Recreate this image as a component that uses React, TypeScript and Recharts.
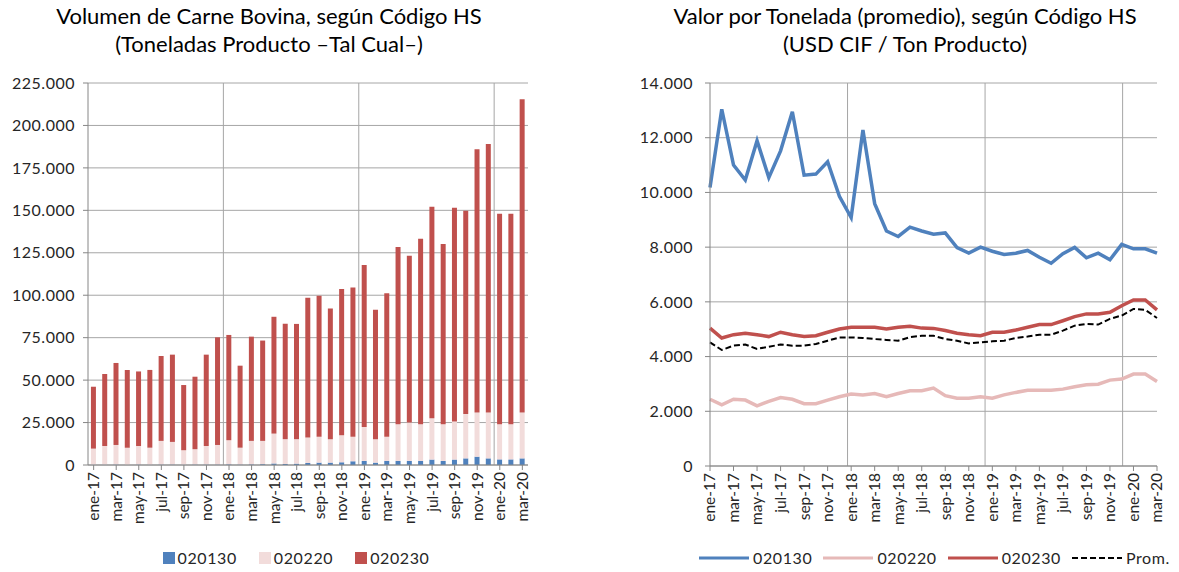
import { BarChart, Bar, ComposedChart, Line, XAxis, YAxis, CartesianGrid, Legend } from "recharts"

const months = [
    "ene-17", "feb-17", "mar-17", "abr-17", "may-17", "jun-17", "jul-17", "ago-17", "sep-17", "oct-17", "nov-17", "dic-17",
    "ene-18", "feb-18", "mar-18", "abr-18", "may-18", "jun-18", "jul-18", "ago-18", "sep-18", "oct-18", "nov-18", "dic-18",
    "ene-19", "feb-19", "mar-19", "abr-19", "may-19", "jun-19", "jul-19", "ago-19", "sep-19", "oct-19", "nov-19", "dic-19",
    "ene-20", "feb-20", "mar-20",
]

// Volumen (toneladas producto)
const vol020130 = [
    200, 200, 300, 200, 300, 200, 300, 300, 200, 300, 300, 300,
    400, 300, 400, 500, 900, 600, 800, 1200, 1400, 1400, 1600, 2200,
    2400, 1400, 2400, 2400, 2400, 2400, 3200, 2400, 3200, 3900, 4900, 3900,
    3300, 3300, 3900,
]
const vol020220 = [
    9450, 11000, 11500, 10000, 10900, 10000, 13900, 13300, 8500, 9000, 10900, 11500,
    14200, 9900, 13800, 13700, 17600, 14600, 14400, 15000, 15200, 13800, 15900, 14400,
    20000, 13800, 14200, 21600, 22600, 21600, 24400, 21600, 22400, 26100, 26000, 27000,
    20700, 20700, 27000,
]
const vol020230 = [
    36450, 42400, 48300, 45800, 43900, 45800, 50000, 51400, 38400, 42700, 53800, 63400,
    62000, 48300, 61400, 59100, 68800, 68000, 67900, 82300, 83100, 77000, 86100, 88000,
    95400, 76200, 84600, 104400, 98300, 109200, 124500, 106200, 125900, 119700, 155100, 158200,
    124000, 124000, 184600,
]

// Valor por tonelada (USD CIF / ton)
const usd020130 = [
    10180, 13040, 11000, 10450, 11890, 10540, 11520, 12950, 10630, 10670, 11120, 9860,
    9080, 12280, 9590, 8590, 8390, 8730, 8590, 8470, 8520, 7980, 7780, 8000,
    7850, 7730, 7780, 7880, 7630, 7410, 7760, 7990, 7610, 7780, 7540, 8100,
    7940, 7940, 7780,
]
const usd020220 = [
    2440, 2240, 2440, 2410, 2200, 2360, 2500, 2440, 2280, 2280, 2410, 2530,
    2630, 2600, 2650, 2530, 2650, 2750, 2750, 2850, 2570, 2480, 2480, 2530,
    2480, 2600, 2690, 2770, 2770, 2770, 2810, 2900, 2970, 2990, 3140, 3180,
    3360, 3360, 3090,
]
const usd020230 = [
    5040, 4680, 4800, 4850, 4800, 4730, 4890, 4800, 4730, 4760, 4890, 5010,
    5070, 5070, 5070, 5010, 5070, 5110, 5040, 5030, 4950, 4850, 4800, 4760,
    4890, 4890, 4970, 5070, 5170, 5170, 5310, 5460, 5560, 5560, 5620, 5860,
    6070, 6070, 5710,
]
const usdProm = [
    4520, 4240, 4400, 4440, 4280, 4360, 4440, 4400, 4400, 4460, 4580, 4700,
    4700, 4680, 4640, 4610, 4580, 4710, 4760, 4760, 4640, 4580, 4480, 4520,
    4560, 4580, 4680, 4730, 4800, 4800, 4950, 5130, 5190, 5170, 5380, 5500,
    5740, 5710, 5410,
]

const volTicks = [0, 25000, 50000, 75000, 100000, 125000, 150000, 175000, 200000, 225000]
const usdTicks = [0, 2000, 4000, 6000, 8000, 10000, 12000, 14000]

const volData = months.map((m, i) => ({ m, a: vol020130[i], b: vol020220[i], c: vol020230[i] }))
const usdData = months.map((m, i) => ({ m, a: usd020130[i], b: usd020220[i], c: usd020230[i], p: usdProm[i] }))

// Lato is the closest installed face to Calibri
const FONT = "Lato, 'Open Sans', sans-serif"
const TEXT = "#262626"
const AXIS = "#868686"
const GRID = "#a6a6a6"

const fmt = (v: number) => String(v).replace(/\B(?=(\d{3})+(?!\d))/g, ".")

// gridlines sit on the category boundaries at each January
const yearLines = ({ offset }: any) =>
    [12, 24, 36].map(i => offset.left + (offset.width * i) / months.length)

function MonthTick({ x, y, payload }: any) {
    return (
        <g transform={`translate(${x},${y})`}>
            <text x={0} y={0} dy="0.35em" textAnchor="end" transform="rotate(-90)" fontSize={15.5} fill={TEXT} fontFamily={FONT}>
                {payload.value}
            </text>
        </g>
    )
}

const legendText: React.CSSProperties = { fontSize: 16, letterSpacing: 0.6, color: TEXT, fontFamily: FONT }

function BarLegend({ payload }: any) {
    return (
        <div style={{ display: "flex", justifyContent: "center", gap: 22, paddingLeft: 54, ...legendText }}>
            {(payload || []).map((p: any) => (
                <span key={p.value} style={{ display: "flex", alignItems: "center", gap: 3 }}>
                    <span style={{ width: 12, height: 12, background: p.color, display: "inline-block" }} />
                    {p.value}
                </span>
            ))}
        </div>
    )
}

function LineLegend({ payload }: any) {
    return (
        <div style={{ display: "flex", justifyContent: "center", gap: 11, paddingLeft: 102, ...legendText }}>
            {(payload || []).map((p: any) => (
                <span key={p.value} style={{ display: "flex", alignItems: "center", gap: 4 }}>
                    <svg width={50} height={10}>
                        <line x1={0} y1={5} x2={50} y2={5} stroke={p.color}
                            strokeWidth={p.payload?.strokeDasharray ? 2 : 3}
                            strokeDasharray={p.payload?.strokeDasharray} />
                    </svg>
                    {p.value}
                </span>
            ))}
        </div>
    )
}

const titleStyle = (left: number, width: number): React.CSSProperties => ({
    position: "absolute", left, top: 2, width, textAlign: "center",
    fontFamily: FONT, fontSize: 22, lineHeight: "28px", color: "#000",
})

export default function App() {
    return (
        <div style={{ position: "absolute", left: 0, top: 0, width: 1179, height: 572, background: "#fff" }}>
            <div style={titleStyle(0, 538)}>
                Volumen de Carne Bovina, según Código HS<br />(Toneladas Producto –Tal Cual–)
            </div>
            <div style={titleStyle(635, 540)}>
                Valor por Tonelada (promedio), según Código HS<br />(USD CIF / Ton Producto)
            </div>

            <div style={{ position: "absolute", left: 0, top: 0 }}>
                <BarChart width={545} height={572} data={volData} barCategoryGap="26%"
                    margin={{ top: 83, right: 17, left: 10, bottom: 5 }}>
                    <CartesianGrid stroke={GRID} verticalCoordinatesGenerator={yearLines} />
                    <XAxis dataKey="m" interval={1} tick={<MonthTick />} height={83}
                        stroke={AXIS} tickSize={5} tickMargin={2} />
                    <YAxis domain={[0, 225000]} ticks={volTicks} tickFormatter={fmt} width={78}
                        stroke={AXIS} tickSize={5} tickMargin={8}
                        tick={{ fill: TEXT, fontSize: 16, fontFamily: FONT, letterSpacing: 0.5 }} />
                    <Legend verticalAlign="bottom" content={<BarLegend />} />
                    <Bar dataKey="a" name="020130" stackId="v" fill="#4f81bd" isAnimationActive={false} />
                    <Bar dataKey="b" name="020220" stackId="v" fill="#f2dcdb" isAnimationActive={false} />
                    <Bar dataKey="c" name="020230" stackId="v" fill="#c0504d" isAnimationActive={false} />
                </BarChart>
            </div>

            <div style={{ position: "absolute", left: 600, top: 0 }}>
                <ComposedChart width={579} height={572} data={usdData}
                    margin={{ top: 83, right: 22, left: 10, bottom: 5 }}>
                    <CartesianGrid stroke={GRID} verticalCoordinatesGenerator={yearLines} />
                    <XAxis dataKey="m" interval={1} tick={<MonthTick />} height={82}
                        stroke={AXIS} tickSize={5} tickMargin={2} />
                    <YAxis domain={[0, 14000]} ticks={usdTicks} tickFormatter={fmt} width={100}
                        stroke={AXIS} tickSize={5} tickMargin={12}
                        tick={{ fill: TEXT, fontSize: 16, fontFamily: FONT, letterSpacing: 0.5 }} />
                    <Legend verticalAlign="bottom" content={<LineLegend />} />
                    <Line dataKey="a" name="020130" stroke="#4f81bd" strokeWidth={3.5} dot={false} isAnimationActive={false} />
                    <Line dataKey="b" name="020220" stroke="#e6b9b8" strokeWidth={3.5} dot={false} isAnimationActive={false} />
                    <Line dataKey="c" name="020230" stroke="#c0504d" strokeWidth={3.5} dot={false} isAnimationActive={false} />
                    <Line dataKey="p" name="Prom." stroke="#000" strokeWidth={2} strokeDasharray="6 3" dot={false} isAnimationActive={false} />
                </ComposedChart>
            </div>
        </div>
    )
}
